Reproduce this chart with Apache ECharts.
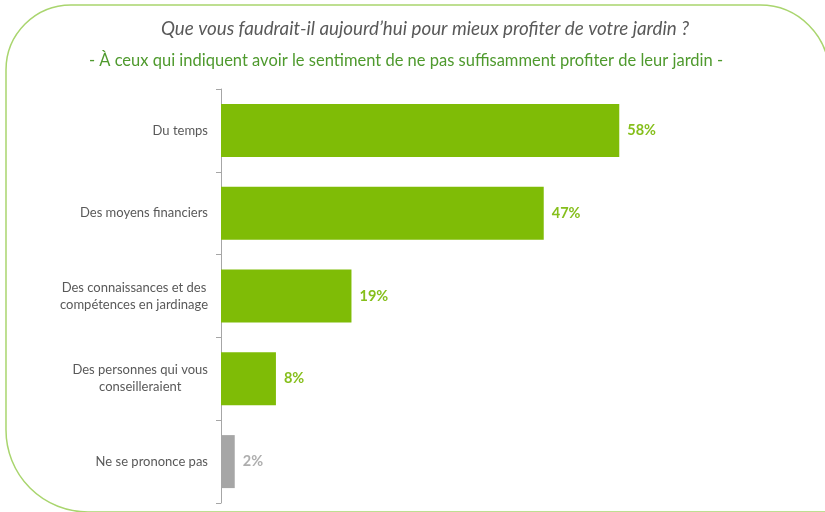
<!DOCTYPE html>
<html>
<head>
<meta charset="utf-8">
<script src="https://cdn.jsdelivr.net/npm/echarts@6/dist/echarts.min.js"></script>
<style>
  html, body { margin: 0; padding: 0; background: #fff; }
  #graph_jardin { width: 825px; height: 512px; }
</style>
</head>
<body>
<div id="graph_jardin"></div>
<script>
// data
var categories = [
  'Du temps',
  'Des moyens financiers',
  'Des connaissances et des\ncompétences en jardinage',
  'Des personnes qui vous\nconseilleraient',
  'Ne se prononce pas'
];
var values = [58, 47, 19, 8, 2];
var barColors = ['#7FBC06', '#7FBC06', '#7FBC06', '#7FBC06', '#A6A6A6'];
var labelColors = ['#86BF1C', '#86BF1C', '#86BF1C', '#86BF1C', '#AEAEAE'];

var titleText = 'Que vous faudrait-il aujourd\u2019hui pour mieux profiter de votre jardin ?';
var subtitleText = '- À ceux qui indiquent avoir le sentiment de ne pas suffisamment profiter de leur jardin -';

var chart = document.getElementById('graph_jardin');
var myChart = echarts.init(chart);

var seriesData = values.map(function (v, i) {
  return {
    value: v,
    itemStyle: { color: barColors[i] },
    label: { color: labelColors[i] }
  };
});

option = {
  backgroundColor: '#fff',
  animation: false,
  title: [
    {
      text: titleText,
      left: 420,
      top: 14,
      textAlign: 'center',
      textStyle: { fontFamily: 'Lato', fontStyle: 'italic', fontWeight: 'normal', fontSize: 18.8, color: '#595959' }
    },
    {
      text: subtitleText,
      left: 401,
      top: 47,
      textAlign: 'center',
      textStyle: { fontFamily: 'Lato', fontWeight: 'normal', fontSize: 16.5, color: '#4F9A2E' }
    }
  ],
  graphic: [
    {
      type: 'rect',
      shape: { x: 6, y: 5, width: 823, height: 507, r: [65, 69, 0, 82] },
      style: { fill: 'none', stroke: '#A9D56E', lineWidth: 1.5 },
      silent: true,
      z: -1
    }
  ],
  grid: {
    left: 221,
    top: 89,
    width: 412,
    height: 414
  },
  xAxis: {
    type: 'value',
    min: 0,
    max: 60,
    show: false
  },
  yAxis: {
    type: 'category',
    inverse: true,
    data: categories,
    axisLine: { show: true, lineStyle: { color: '#A6A6A6', width: 1 } },
    axisTick: { show: true, length: 5, lineStyle: { color: '#A6A6A6', width: 1 } },
    axisLabel: {
      margin: 13,
      fontFamily: 'Lato',
      fontSize: 13,
      color: '#595959',
      lineHeight: 17,
      formatter: function (val) {
        return val.split('\n').map(function (s) { return '{c|' + s + '}'; }).join('\n');
      },
      rich: {
        c: { align: 'center', fontFamily: 'Lato', fontSize: 13, color: '#595959', lineHeight: 17 }
      }
    }
  },
  series: [
    {
      type: 'bar',
      data: seriesData,
      barCategoryGap: '36%',
      label: {
        show: true,
        position: 'right',
        distance: 8,
        formatter: '{c}%',
        fontFamily: 'Lato',
        fontWeight: 'bold',
        fontSize: 14.5
      }
    }
  ]
};

myChart.setOption(option);
</script>
</body>
</html>
